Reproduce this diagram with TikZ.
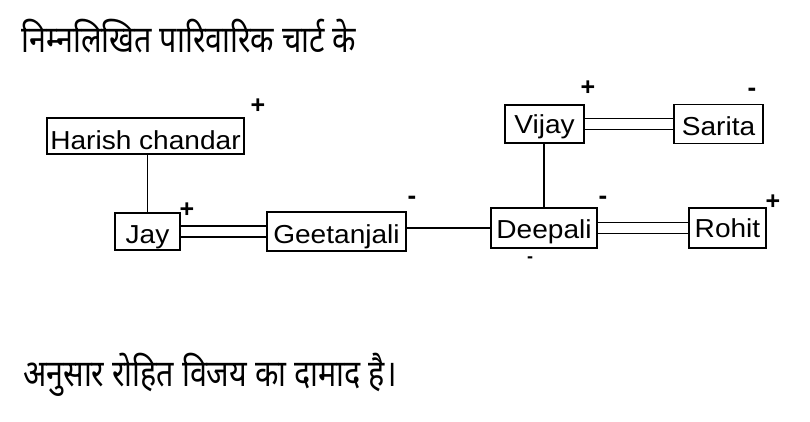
\documentclass[tikz,border=0pt]{standalone}
\usepackage{fontspec}
\setmainfont{Liberation Sans}
\newfontfamily\deva[Script=Devanagari]{Noto Sans}
\newcommand{\wide}[1]{\scalebox{1.08}[1]{#1}}
\tikzset{
  person/.style={draw, line width=1.4pt, inner sep=0pt, text height=#1, text depth=0pt,
    font=\fontsize{26}{28}\selectfont},
  person/.default=22pt,
  sign/.style={inner sep=0pt, font=\bfseries\fontsize{25}{28}\selectfont},
  minus/.style={inner sep=0pt, font=\bfseries\fontsize{26}{28}\selectfont},
  link/.style={line width=1.3pt},
  marriage/.style={double, line width=1.4pt, double distance=9.5pt},
  hindi/.style={anchor=base west, inner sep=0pt, font=\deva\fontsize{30.5}{34}\selectfont}
}
\begin{document}
\begin{tikzpicture}[x=1pt,y=-1pt]
\useasboundingbox (0,0) rectangle (810,421);
\node[hindi] (head) at (21,52) {\scalebox{1}[1.22]{निम्नलिखित पारिवारिक चार्ट के}};
\node[hindi] (foot) at (23,386) {\scalebox{1}[1.22]{अनुसार रोहित विजय का दामाद है।}};

\node[person=27pt, minimum width=197pt, minimum height=36pt] (harish) at (145.5,136) {\wide{Harish chandar}};
\node[person=24pt, minimum width=65pt, minimum height=37pt] (jay) at (147.5,231.5) {\wide{Jay}};
\node[person=23pt, minimum width=139pt, minimum height=39pt] (geet) at (336.5,231.5) {\wide{Geetanjali}};
\node[person=20pt, minimum width=106pt, minimum height=40pt] (deep) at (544,228) {\wide{Deepali}};
\node[person=19pt, minimum width=77pt, minimum height=40pt] (rohit) at (727.5,228) {\wide{Rohit}};
\node[person=18pt, minimum width=79pt, minimum height=38pt] (vijay) at (544.5,124) {\wide{Vijay}};
\node[person=22pt, minimum width=89pt, minimum height=39pt] (sarita) at (718.5,124) {\wide{Sarita}};

\node[sign] (s1) at (258,106) {+};
\node[sign] (s2) at (187,210) {+};
\node[minus] (s3) at (412,200) {-};
\node[sign] (s4) at (588,88) {+};
\node[minus] (s5) at (752,92) {-};
\node[minus] (s6) at (603,200) {-};
\node[minus, font=\bfseries\fontsize{18}{20}\selectfont] (s7) at (530,260) {-};
\node[sign] (s8) at (773,202) {+};

\draw[link] (jay.north) -- (jay.north |- harish.south);
\draw[link] (deep.north) -- (deep.north |- vijay.south);
\draw[link] (deep.west) -- (deep.west -| geet.east);
\draw[marriage] (jay) -- (geet);
\draw[marriage] (vijay) -- (sarita);
\draw[marriage] (deep) -- (rohit);
\end{tikzpicture}
\end{document}
